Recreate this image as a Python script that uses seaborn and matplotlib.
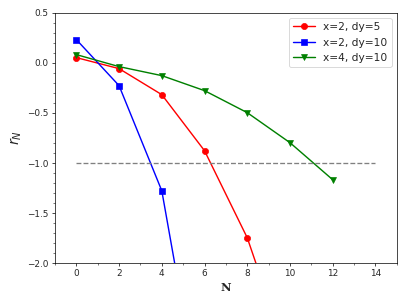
import numpy as np
import pandas as pd
import matplotlib
matplotlib.use("Agg")
import matplotlib.pyplot as plt
import seaborn as sns
from matplotlib.ticker import MultipleLocator

# values
n_red = [0, 2, 4, 6, 8, 10]
r_red = [0.05, -0.06, -0.32, -0.88, -1.75, -3.0]
n_blue = [0, 2, 4, 6]
r_blue = [0.23, -0.23, -1.28, -3.68]
n_green = [0, 2, 4, 6, 8, 10, 12]
r_green = [0.08, -0.04, -0.13, -0.28, -0.50, -0.80, -1.17]
labels = ["x=2, dy=5", "x=2, dy=10", "x=4, dy=10"]
ref_x = [0, 14]
ref_y = [-1, -1]

sns.set_style("ticks")
plt.rcParams["font.family"] = ["DejaVu Sans"]

fig = plt.figure(figsize=(6.4, 4.8), dpi=63.6)
ax = fig.add_axes([0.135, 0.138, 0.84, 0.82])

series = [(n_red, r_red, "red", "o"), (n_blue, r_blue, "blue", "s"), (n_green, r_green, "green", "v")]
for (xs, ys, c, m), lab in zip(series, labels):
    df = pd.DataFrame({"N": xs, "r": ys})
    sns.lineplot(data=df, x="N", y="r", color=c, marker=m, markersize=7,
                 markeredgecolor=c, linewidth=1.6, label=lab, ax=ax)

ax.plot(ref_x, ref_y, "--", color="gray", linewidth=1.5)

ax.set_ylim(-2, 0.5)
ax.set_xlim(-1, 15)
ax.xaxis.set_major_locator(MultipleLocator(2))
ax.xaxis.set_minor_locator(MultipleLocator(1))
ax.yaxis.set_major_locator(MultipleLocator(0.5))
ax.yaxis.set_minor_locator(MultipleLocator(0.1))
for s in ax.spines.values():
    s.set_color("black")
ax.tick_params(which="both", direction="out", labelsize=10, color="black")
ax.set_xlabel("N", fontsize=13, family="DejaVu Serif", weight="bold")
ax.set_ylabel(r"$r_N$", fontsize=16)
ax.legend(loc="upper right", fontsize=12)

fig.savefig("out.png")
